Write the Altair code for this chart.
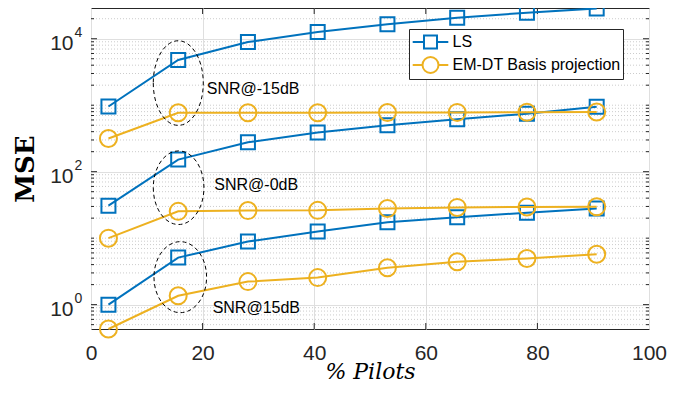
import altair as alt
import pandas as pd

# ---------------- data ----------------
pilots = [3.125, 15.625, 28.125, 40.625, 53.125, 65.625, 78.125, 90.625]
ls_m15 = [955, 4800, 8900, 12600, 16500, 20700, 24600, 28600]
em_m15 = [316, 770, 770, 770, 775, 780, 785, 790]
ls_0 = [30.8, 152, 277, 388, 500, 614, 747, 947]
em_0 = [10.0, 25.3, 26.0, 26.2, 28.0, 29.0, 29.5, 29.7]
ls_15 = [1.0, 5.1, 8.9, 12.6, 17.4, 20.6, 24.2, 28.0]
em_15 = [0.43, 1.36, 2.22, 2.55, 3.59, 4.41, 4.95, 5.74]

methods = ["LS", "EM-DT Basis projection"]
colors = ["#0072BD", "#EDB120"]
snrs = ["-15dB", "0dB", "15dB"]

x_ticks = [0, 20, 40, 60, 80, 100]
y_major = [1, 100, 10000]
y_exp = ["0", "2", "4"]
y_minor = [m * 10.0 ** k for k in range(-1, 5) for m in range(1, 10)
           if 0.43 <= m * 10.0 ** k <= 29000 and m * 10.0 ** k not in (1, 100, 10000)]

# annotations
ann_text = ["SNR@-15dB", "SNR@-0dB", "SNR@15dB"]
ann_x = [20.74, 22.1, 21.8]
ann_y = [1493, 52.7, 0.752]
ell_x = [15.64, 15.7, 16.0]
ell_y = [2155, 57.4, 2.59]

rows = []
for snr, ls, em in zip(snrs, [ls_m15, ls_0, ls_15], [em_m15, em_0, em_15]):
    for p, a, b in zip(pilots, ls, em):
        rows.append({"pilots": p, "mse": a, "method": "LS", "snr": snr})
        rows.append({"pilots": p, "mse": b, "method": "EM-DT Basis projection", "snr": snr})
df = pd.DataFrame(rows)

W, H = 558, 321
FONT = "Liberation Sans"
AX = "#262626"

x_scale = alt.Scale(domain=[0, 100], nice=False, zero=False)
y_scale = alt.Scale(type="log", domain=[0.43, 29000], nice=False)

x_axis = alt.Axis(values=x_ticks, grid=True, gridColor="#dfdfdf", ticks=False, domain=False,
                  labelFont=FONT, labelFontSize=21, labelColor=AX, labelPadding=13,
                  labelFlush=False, labelOverlap=False,
                  title="%  Pilots", titleFont="DejaVu Serif", titleFontStyle="italic",
                  titleFontWeight="normal", titleFontSize=22, titleColor="black",
                  titleY=49, titleBaseline="alphabetic")
y_axis = alt.Axis(values=y_major, grid=True, gridColor="#dfdfdf", ticks=False, domain=False,
                  labelExpr="'10'", labelFont=FONT, labelFontSize=21, labelColor=AX,
                  labelAlign="right", labelBaseline="alphabetic", labelOffset=11,
                  labelPadding=18, labelFlush=False, labelOverlap=False,
                  title="MSE", titleFont="DejaVu Serif", titleFontWeight="bold",
                  titleFontSize=26, titleColor="black", titleAngle=270,
                  titleX=-66, titleY=H / 2, titleAlign="center", titleBaseline="middle")


def X(f):
    return alt.X(f, type="quantitative", scale=x_scale, axis=x_axis)


def Y(f):
    return alt.Y(f, type="quantitative", scale=y_scale, axis=y_axis)


minor_df = pd.DataFrame({"v": y_minor})
major_df = pd.DataFrame({"v": y_major, "e": y_exp})
xt_df = pd.DataFrame({"v": x_ticks[1:-1]})

layers = []
# base layer carrying axes + minor grid
layers.append(alt.Chart(minor_df).mark_rule(color="#cccccc", strokeDash=[1, 2], strokeWidth=1)
              .encode(y=Y("v")))
layers.append(alt.Chart(df).mark_point(opacity=0).encode(x=X("pilots"), y=Y("mse")))

# inward ticks
for x0, x1, src in [(0, 6, major_df), (W - 6, W, major_df), (0, 3, minor_df), (W - 3, W, minor_df)]:
    layers.append(alt.Chart(src).mark_rule(color=AX, strokeWidth=1)
                  .encode(y=Y("v"), x=alt.value(x0), x2=alt.value(x1)))
for y0, y1 in [(H - 6, H), (0, 6)]:
    layers.append(alt.Chart(xt_df).mark_rule(color=AX, strokeWidth=1)
                  .encode(x=X("v"), y=alt.value(y0), y2=alt.value(y1)))

# exponent of y tick labels
layers.append(alt.Chart(major_df).mark_text(align="left", baseline="alphabetic", font=FONT,
                                            fontSize=14, color=AX, dy=-2)
              .encode(x=alt.value(-16.5), y=Y("v"), text="e:N"))

# data lines and markers
shapes = ["square", "circle"]
sizes = [196, 289]
for m, c, s, sz in zip(methods, colors, shapes, sizes):
    sub = alt.Chart(df[df.method == m])
    layers.append(sub.mark_line(color=c, strokeWidth=2)
                  .encode(x=X("pilots"), y=Y("mse"), detail="snr:N"))
    layers.append(sub.mark_point(shape=s, size=sz, filled=False, color=c, strokeWidth=2, opacity=1)
                  .encode(x=X("pilots"), y=Y("mse")))

# dashed ellipses
ell_sizes = [(25.0, 42.3), (25.3, 36.8), (26.3, 35.5)]
for ex, ey, (hw, hh) in zip(ell_x, ell_y, ell_sizes):
    a = hw / hh
    path = f"M {-a:.3f} 0 A {a:.3f} 1 0 1 0 {a:.3f} 0 A {a:.3f} 1 0 1 0 {-a:.3f} 0 Z"
    layers.append(alt.Chart(pd.DataFrame({"x": [ex], "y": [ey]}))
                  .mark_point(shape=path, size=(2 * hh) ** 2, filled=False, color="black",
                              strokeWidth=1, strokeDash=[4, 3], opacity=1)
                  .encode(x=X("x"), y=Y("y")))

# annotation texts
layers.append(alt.Chart(pd.DataFrame({"x": ann_x, "y": ann_y, "t": ann_text}))
              .mark_text(align="left", baseline="alphabetic", font=FONT, fontSize=16, color="black")
              .encode(x=X("x"), y=Y("y"), text="t:N"))

# legend layer (invisible marks, visible legend); symbol box 20px, path reaches beyond it
sq = "M -1.78 0 L -0.65 0 M 0.65 0 L 1.78 0 M -0.65 -0.65 L 0.65 -0.65 L 0.65 0.65 L -0.65 0.65 Z"
ci = "M -1.78 0 L -0.8 0 M 0.8 0 L 1.78 0 M -0.8 0 A 0.8 0.8 0 1 0 0.8 0 A 0.8 0.8 0 1 0 -0.8 0 Z"
leg = alt.Legend(title=None, orient="none", legendX=318, legendY=21, direction="vertical",
                 fillColor="white", strokeColor=AX, padding=2, cornerRadius=0,
                 labelFont=FONT, labelFontSize=16, labelColor="black", labelLimit=400,
                 symbolSize=400, symbolStrokeWidth=2, symbolOpacity=1, symbolOffset=8.5,
                 labelOffset=11, rowPadding=0, symbolFillColor="transparent")
layers.append(alt.Chart(pd.DataFrame({"Method": methods}))
              .mark_point(opacity=0, filled=False, size=400)
              .encode(x=alt.value(0), y=alt.value(0),
                      color=alt.Color("Method:N", scale=alt.Scale(domain=methods, range=colors), legend=leg),
                      shape=alt.Shape("Method:N", scale=alt.Scale(domain=methods, range=[sq, ci]), legend=leg)))

chart = (alt.layer(*layers)
         .properties(width=W, height=H, autosize=alt.AutoSizeParams(type="none"),
                     padding={"left": 83, "top": 0, "right": 38, "bottom": 57}, background="white")
         .configure_view(stroke=AX, strokeWidth=1))

chart.save("out.html", embed_options={"renderer": "svg", "actions": False})
